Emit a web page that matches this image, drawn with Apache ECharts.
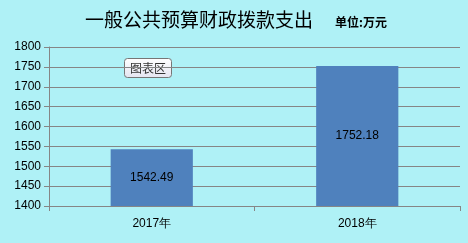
<!DOCTYPE html>
<html><head><meta charset="utf-8">
<script src="https://cdn.jsdelivr.net/npm/echarts@6/dist/echarts.min.js"></script>
<style>html,body{margin:0;padding:0;background:#aff1f6}#c{width:468px;height:243px}</style>
</head><body><div id="c"></div>
<script>
const categories = ['2017年', '2018年'];
const values = [1542.49, 1752.18];
const yMin = 1400, yMax = 1800, yStep = 50;
const titleText = '一般公共预算财政拨款支出';
const unitText = '单位:万元';

const chart = echarts.init(document.getElementById('c'), null, {renderer: 'canvas'});
chart.setOption({
  backgroundColor: '#aff1f6',
  animation: false,
  title: [
    {text: titleText, left: 80, top: 5, textStyle: {fontFamily: 'Noto Sans CJK SC', fontSize: 19, fontWeight: 'normal', color: '#000'}},
    {text: unitText, left: 330, top: 11, textStyle: {fontFamily: 'Noto Sans CJK SC', fontSize: 12, fontWeight: 'bold', color: '#000'}}
  ],
  grid: {left: 49, right: 8, top: 47, bottom: 37},
  xAxis: {
    type: 'category', data: categories,
    axisLine: {lineStyle: {color: '#868686'}},
    axisTick: {show: true, length: 5, alignWithLabel: false, lineStyle: {color: '#868686'}},
    axisLabel: {margin: 12, fontFamily: 'Liberation Sans', fontSize: 12, color: '#000'}
  },
  yAxis: {
    type: 'value', min: yMin, max: yMax, interval: yStep,
    axisLine: {show: true, lineStyle: {color: '#868686'}},
    axisTick: {show: true, length: 5, lineStyle: {color: '#868686'}},
    splitLine: {lineStyle: {color: '#868686'}},
    axisLabel: {margin: 8, fontFamily: 'Liberation Sans', fontSize: 12, color: '#000', formatter: v => String(v)}
  },
  series: [{
    type: 'bar', data: values, barWidth: '40%',
    itemStyle: {color: '#4f81bd'},
    label: {show: true, position: 'inside', color: '#000', fontFamily: 'Liberation Sans', fontSize: 12,
      formatter: p => p.value.toFixed(2)}
  }],
  graphic: [{
    type: 'group', left: 124, top: 58,
    children: [
      {type: 'rect', shape: {x: 0, y: 0, width: 47, height: 19, r: 3},
       style: {fill: {type: 'linear', x: 0, y: 0, x2: 0, y2: 1, colorStops: [{offset: 0, color: '#ffffff'}, {offset: 1, color: '#e4e4f0'}]}, stroke: '#767676', lineWidth: 1}},
      {type: 'text', x: 23.5, y: 9.5, style: {text: '图表区', align: 'center', verticalAlign: 'middle', fontFamily: 'Noto Sans CJK SC', fontSize: 12, fill: '#333'}}
    ]
  }]
});
</script></body></html>
